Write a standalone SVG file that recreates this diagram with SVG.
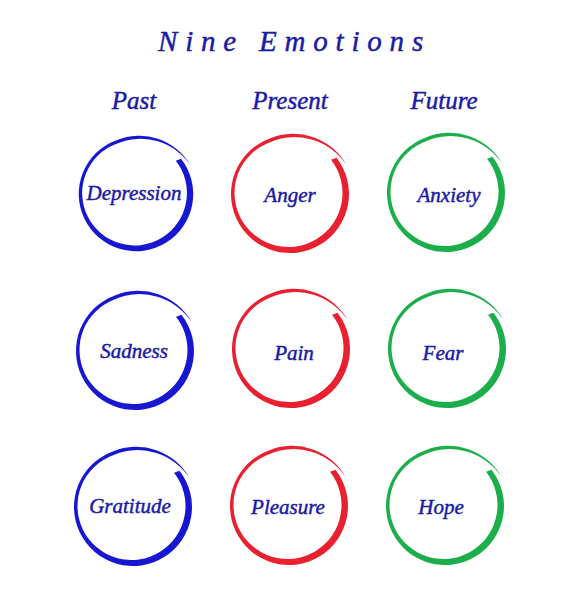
<svg xmlns="http://www.w3.org/2000/svg" xmlns:xlink="http://www.w3.org/1999/xlink" width="570" height="612" viewBox="0 0 570 612">
  <style>
    text { font-family: "Liberation Serif", "Times New Roman", serif; font-style: italic; fill: #1a1aa4; stroke: #1a1aa4; stroke-width: 0.45px; text-anchor: middle; }
    .title { font-size: 29px; letter-spacing: 7.8px; text-anchor: start; }
    .head { font-size: 25px; }
    .label { font-size: 21px; }
    .past { fill: #1717d2; }
    .present { fill: #e8202f; }
    .future { fill: #1bae4a; }
  </style>
  <defs>
    <path id="ring" d="M 46.49 -36.32 A 59 59 0 1 1 -20.18 -55.46 A 61 61 0 0 1 56.6 -28.9 A 62 62 0 0 0 -19.97 -51.76 A 54 54 0 1 0 41.05 -34.26 Z"/>
  </defs>
  <rect width="570" height="612" fill="#ffffff"/>

  <text class="title" x="158" y="51">Nine Emotions</text>
  <text class="head" x="134" y="109">Past</text>
  <text class="head" x="290" y="109">Present</text>
  <text class="head" x="444" y="109">Future</text>

  <g id="depression">
    <use xlink:href="#ring" href="#ring" class="past" transform="translate(136,194) scale(0.97)"/>
    <text class="label" x="134" y="200">Depression</text>
  </g>
  <g id="anger">
    <use xlink:href="#ring" href="#ring" class="present" transform="translate(290,194)"/>
    <text class="label" x="290" y="202">Anger</text>
  </g>
  <g id="anxiety">
    <use xlink:href="#ring" href="#ring" class="future" transform="translate(446,193)"/>
    <text class="label" x="449" y="202">Anxiety</text>
  </g>

  <g id="sadness">
    <use xlink:href="#ring" href="#ring" class="past" transform="translate(135,351)"/>
    <text class="label" x="134" y="358">Sadness</text>
  </g>
  <g id="pain">
    <use xlink:href="#ring" href="#ring" class="present" transform="translate(291,349)"/>
    <text class="label" x="294" y="360">Pain</text>
  </g>
  <g id="fear">
    <use xlink:href="#ring" href="#ring" class="future" transform="translate(447,349)"/>
    <text class="label" x="443" y="360">Fear</text>
  </g>

  <g id="gratitude">
    <use xlink:href="#ring" href="#ring" class="past" transform="translate(133,507)"/>
    <text class="label" x="130" y="513">Gratitude</text>
  </g>
  <g id="pleasure">
    <use xlink:href="#ring" href="#ring" class="present" transform="translate(289,506)"/>
    <text class="label" x="288" y="514">Pleasure</text>
  </g>
  <g id="hope">
    <use xlink:href="#ring" href="#ring" class="future" transform="translate(445,506)"/>
    <text class="label" x="441" y="514">Hope</text>
  </g>
</svg>
